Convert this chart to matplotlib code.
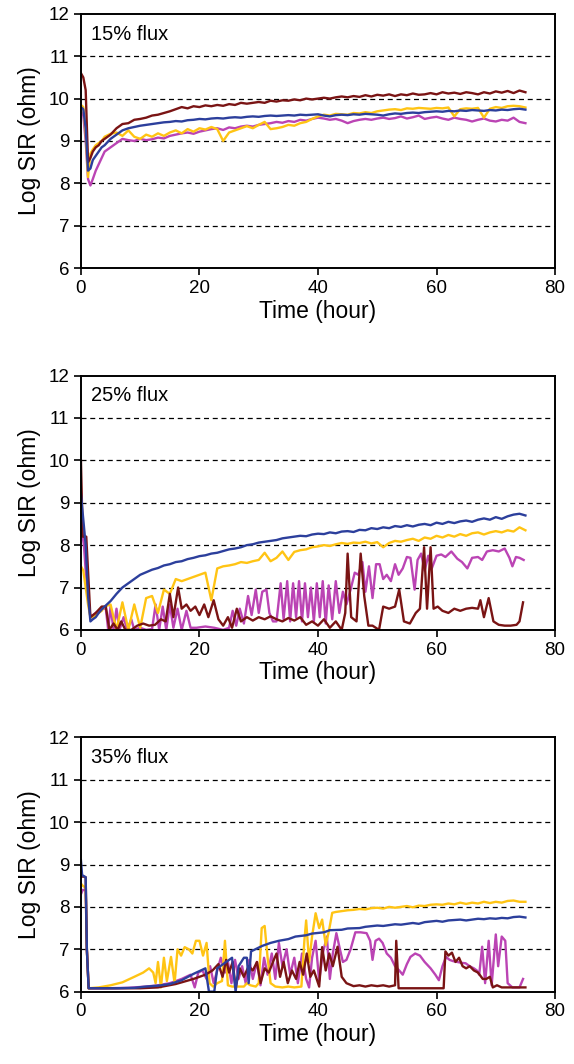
import matplotlib
matplotlib.use("Agg")
import matplotlib.pyplot as plt

# SIR vs time for three flux levels, four samples each

plt.rcParams['font.family'] = ['Liberation Sans', 'DejaVu Sans']

MAROON = '#7a1414'
YELLOW = '#ffc414'
BLUE = '#2c3f9c'
MAGENTA = '#bb44b4'

# ---- 15% flux: shared time grid ----
t15 = [0, 0.4, 0.8, 1.2, 1.6, 2, 2.5, 3, 3.5] + list(range(4, 76))

maroon15 = [10.6, 10.5, 10.2, 8.5, 8.6, 8.75, 8.85, 8.9, 9.0,
            9.05, 9.15, 9.3, 9.4, 9.42, 9.5, 9.52, 9.55, 9.6, 9.62,
            9.66, 9.7, 9.75, 9.8, 9.77, 9.82, 9.8, 9.84, 9.82, 9.85,
            9.83, 9.87, 9.85, 9.9, 9.88, 9.9, 9.92, 9.9, 9.95, 9.93,
            9.96, 9.95, 9.98, 9.96, 10.0, 9.98, 10.0, 10.02, 10.0, 10.03,
            10.05, 10.03, 10.06, 10.04, 10.08, 10.05, 10.09, 10.07, 10.1, 10.06,
            10.1, 10.08, 10.12, 10.09, 10.1, 10.13, 10.1, 10.15, 10.12, 10.14,
            10.11, 10.15, 10.13, 10.1, 10.15, 10.12, 10.17, 10.14, 10.18, 10.13,
            10.19, 10.15]
blue15 = [9.8, 9.75, 9.3, 8.3, 8.35, 8.55, 8.65, 8.75, 8.85,
          8.9, 9.05, 9.15, 9.25, 9.3, 9.33, 9.36, 9.38, 9.4, 9.42,
          9.44, 9.45, 9.47, 9.46, 9.49, 9.5, 9.52, 9.51, 9.53, 9.54,
          9.53, 9.55, 9.56, 9.55, 9.57, 9.58, 9.57, 9.59, 9.6, 9.59,
          9.6, 9.61, 9.6, 9.62, 9.61, 9.62, 9.63, 9.6, 9.58, 9.61,
          9.62, 9.61, 9.63, 9.62, 9.64, 9.63, 9.62, 9.6, 9.63, 9.65,
          9.64, 9.66, 9.67, 9.66, 9.68, 9.69, 9.7, 9.69, 9.71, 9.7,
          9.72, 9.71, 9.73, 9.72, 9.71, 9.73, 9.72, 9.74, 9.73, 9.75,
          9.76, 9.74]
yellow15 = [9.85, 9.8, 9.2, 8.15, 8.7, 8.8, 8.9, 8.95, 9.0,
            9.1, 9.17, 9.2, 9.12, 9.25, 9.1, 9.05, 9.15, 9.1, 9.18,
            9.12, 9.2, 9.25, 9.18, 9.28, 9.22, 9.3, 9.27, 9.33, 9.28,
            9.0, 9.2, 9.25, 9.3, 9.35, 9.3, 9.38, 9.45, 9.28, 9.3,
            9.33, 9.38, 9.36, 9.42, 9.45, 9.52, 9.58, 9.62, 9.6, 9.64,
            9.63, 9.62, 9.66, 9.65, 9.68, 9.66, 9.7, 9.72, 9.74, 9.75,
            9.73, 9.77, 9.76, 9.78, 9.77, 9.76, 9.78, 9.77, 9.79, 9.58,
            9.75, 9.77, 9.76, 9.78, 9.55, 9.76, 9.8, 9.78, 9.82, 9.83,
            9.82, 9.79]
magenta15 = [9.7, 9.6, 9.0, 8.1, 7.95, 8.1, 8.3, 8.45, 8.6,
             8.75, 8.85, 8.95, 9.05, 9.02, 9.0, 9.05, 9.02, 9.04, 9.08,
             9.06, 9.12, 9.15, 9.18, 9.2, 9.17, 9.22, 9.25, 9.28, 9.3,
             9.26, 9.32, 9.3, 9.34, 9.36, 9.34, 9.38, 9.4, 9.42, 9.45,
             9.43, 9.47, 9.45, 9.5, 9.48, 9.52, 9.55, 9.53, 9.5, 9.52,
             9.48, 9.42, 9.47, 9.5, 9.52, 9.5, 9.53, 9.55, 9.52, 9.54,
             9.58, 9.53, 9.56, 9.6, 9.52, 9.55, 9.57, 9.53, 9.5, 9.55,
             9.52, 9.5, 9.46, 9.5, 9.53, 9.48, 9.46, 9.5, 9.48, 9.55,
             9.45, 9.42]

# ---- 25% flux ----
t25 = t15
blue25 = [9.2, 8.6, 8.0, 6.8, 6.2, 6.25, 6.3, 6.4, 6.48,
          6.55, 6.68, 6.85, 7.0, 7.1, 7.2, 7.3, 7.36, 7.42, 7.46,
          7.52, 7.55, 7.6, 7.62, 7.67, 7.7, 7.74, 7.76, 7.8, 7.82,
          7.86, 7.9, 7.92, 7.95, 8.0, 8.02, 8.06, 8.08, 8.1, 8.12,
          8.16, 8.18, 8.2, 8.22, 8.21, 8.25, 8.27, 8.26, 8.3, 8.28,
          8.32, 8.33, 8.31, 8.36, 8.35, 8.4, 8.38, 8.42, 8.4, 8.45,
          8.43, 8.47, 8.44, 8.48, 8.5, 8.47, 8.53, 8.5, 8.55, 8.52,
          8.56, 8.58, 8.55, 8.6, 8.63, 8.6, 8.66, 8.62, 8.68, 8.72,
          8.74, 8.7]
yellow25 = [7.5, 7.4, 7.0, 6.6, 6.3, 6.3, 6.35, 6.4, 6.45,
            6.55, 6.6, 6.0, 6.65, 6.0, 6.6, 6.05, 6.75, 6.8, 6.4,
            6.95, 6.85, 7.2, 7.15, 7.2, 7.25, 7.3, 7.35, 6.7, 7.45,
            7.5, 7.52, 7.55, 7.6, 7.58, 7.62, 7.65, 7.82, 7.62, 7.7,
            7.85, 7.65, 7.84, 7.88, 7.9, 7.95, 7.97, 8.0, 7.98, 8.02,
            8.05, 8.03, 8.06, 8.05, 8.08, 8.04, 8.07, 7.95, 8.05, 8.1,
            8.08, 8.12, 8.15, 8.1, 8.18, 8.15, 8.22, 8.18, 8.24, 8.2,
            8.26, 8.22, 8.28, 8.3, 8.25, 8.3, 8.33, 8.3, 8.35, 8.32,
            8.42, 8.35]

t_maroon25 = [0, 0.3, 0.9, 1.6, 2.5, 3.5, 4.2, 4.8, 5.5, 6.2,
              6.8, 7.5, 8.5, 9.5, 10.5, 11.5, 12.5, 13.5, 14.3, 15.0,
              15.6, 16.4, 17.0, 17.8, 18.5, 19.3, 20.0, 20.8, 21.5, 22.4,
              23.2, 24.0, 24.8, 25.5, 26.3, 27.0, 28.0, 29.0, 30.0, 31.0,
              32.0, 33.0, 34.0, 35.0, 36.0, 37.0, 38.0, 39.0, 40.0, 41.0,
              42.0, 43.0, 44.0, 44.6, 45.0, 45.6, 46.5, 47.2, 47.8, 48.5,
              49.2, 50.3, 51.0, 52.0, 53.0, 53.7, 54.5, 55.5, 56.5, 57.2,
              57.9, 58.4, 59.0, 59.5, 60.2, 61.0, 62.0, 63.0, 64.0, 65.0,
              66.0, 67.0, 67.4, 68.0, 68.8, 69.6, 70.5, 71.5, 72.5, 73.5,
              74.0, 74.6]
maroon25 = [10.0, 8.2, 8.2, 6.3, 6.4, 6.55, 6.55, 6.0, 6.15, 6.0,
            6.2, 6.0, 6.0, 6.1, 6.15, 6.1, 6.12, 6.25, 6.2, 6.85,
            6.3, 7.0, 6.5, 6.6, 6.45, 6.55, 6.35, 6.6, 6.3, 6.7,
            6.25, 6.1, 6.3, 6.05, 6.5, 6.2, 6.3, 6.22, 6.3, 6.25,
            6.32, 6.25, 6.2, 6.28, 6.22, 6.3, 6.12, 6.2, 6.1, 6.25,
            6.05, 6.2, 6.0, 6.4, 7.8, 6.3, 6.2, 7.8, 6.8, 6.1,
            6.1, 6.0, 6.55, 6.5, 6.55, 6.95, 6.2, 6.15, 6.4, 6.5,
            7.95, 6.5, 7.95, 6.5, 6.55, 6.45, 6.4, 6.5, 6.45, 6.5,
            6.52, 6.5, 6.7, 6.3, 6.75, 6.2, 6.12, 6.1, 6.1, 6.12,
            6.2, 6.65]

t_magenta25 = [0, 0.5, 1.0, 1.6, 2.5, 3.5, 4.2, 4.6, 5.0, 5.5,
               6.0, 6.5, 7.2, 7.8, 8.5, 9.0, 10.0, 11.0, 12.0, 12.6,
               13.2, 13.8, 14.4, 15.0, 15.6, 16.3, 17.0, 17.8, 18.5, 19.5,
               21.0, 22.5, 24.0, 25.0, 25.6, 26.2, 26.8, 27.5, 28.2, 28.8,
               29.5, 30.0, 30.6, 31.3, 31.8, 32.4, 33.0, 33.7, 34.2, 34.8,
               35.3, 35.8, 36.3, 36.8, 37.3, 37.8, 38.3, 38.8, 39.3, 39.8,
               40.3, 40.8, 41.3, 41.8, 42.4, 43.0, 43.6, 44.2, 44.8, 45.5,
               46.2, 46.8, 47.5, 48.0, 48.6, 49.2, 49.8, 50.4, 51.0, 51.6,
               52.3, 53.0, 53.6, 54.3, 55.0, 55.6, 56.3, 56.8, 57.4, 58.0,
               58.6, 59.2, 60.0, 60.8, 61.5, 62.5, 63.5, 64.3, 65.2, 66.0,
               67.0, 67.7, 68.5, 69.5, 70.5, 71.5, 72.3, 72.8, 73.4, 74.0,
               74.7]
magenta25 = [8.5, 8.0, 7.0, 6.3, 6.4, 6.5, 6.5, 6.0, 6.55, 6.0,
             6.5, 6.0, 6.3, 6.0, 6.25, 6.0, 6.05, 6.0, 6.02, 6.6,
             6.0, 6.55, 6.0, 6.6, 6.05, 6.5, 6.0, 6.45, 6.05, 6.05,
             6.08, 6.05, 6.0, 6.05, 6.45, 6.1, 6.5, 6.15, 6.8, 6.35,
             6.95, 6.4, 6.9, 6.95, 6.4, 6.2, 6.2, 7.1, 6.25, 7.15,
             6.2, 7.1, 6.3, 7.15, 6.2, 7.1, 6.3, 7.0, 6.2, 7.1,
             6.3, 7.15, 6.15, 7.05, 6.25, 7.15, 6.4, 6.9, 6.6, 6.95,
             7.35, 7.3, 7.6, 6.9, 7.5, 6.75, 7.55, 7.55, 7.2, 7.3,
             7.15, 7.55, 7.3, 7.45, 7.72, 7.7, 6.95, 7.65, 7.8, 7.4,
             7.75, 7.45, 7.75, 7.78, 7.72, 7.85, 7.68, 7.6, 7.45, 7.7,
             7.72, 7.65, 7.85, 7.88, 7.85, 7.92, 7.7, 7.5, 7.72, 7.7,
             7.65]

# ---- 35% flux ----
t_blue35 = [0, 0.2, 0.8, 1.0, 1.3, 3, 6, 9, 11, 13,
            15, 17, 19, 21, 21.6, 22.5, 23.0, 24, 25.5, 26.1,
            26.6, 27.5, 28.0, 28.3, 28.7, 30.6, 32, 33.4, 35, 36.2,
            38, 39, 41, 42, 44, 45, 47, 48, 50, 51,
            53, 54, 56, 57, 58, 60, 61, 62, 64, 65,
            67, 68, 69, 70, 71, 72, 73, 74, 75]
blue35 = [9.1, 8.75, 8.7, 7.0, 6.08, 6.08, 6.08, 6.09, 6.12, 6.14,
          6.18, 6.27, 6.42, 6.55, 6.0, 6.0, 6.55, 6.65, 6.8, 6.0,
          6.6, 6.8, 6.8, 6.2, 6.95, 7.08, 7.15, 7.2, 7.24, 7.3,
          7.33, 7.37, 7.4, 7.45, 7.46, 7.49, 7.5, 7.53, 7.56, 7.55,
          7.59, 7.58, 7.62, 7.6, 7.64, 7.67, 7.65, 7.68, 7.7, 7.68,
          7.72, 7.71, 7.73, 7.72, 7.74, 7.73, 7.76, 7.77, 7.75]

t_yellow35 = [0, 0.3, 0.8, 1.0, 1.3, 3, 5, 7, 9, 10.5,
              11.5, 12.2, 12.6, 13.0, 13.5, 14.0, 14.5, 15.2, 15.8, 16.3,
              16.9, 17.5, 18.2, 18.8, 19.4, 20.0, 20.6, 21.2, 21.7, 22.3,
              23.0, 23.8, 24.3, 24.8, 25.5, 26.5, 27.5, 28.0, 28.6, 29.5,
              30.0, 30.5, 31.0, 31.5, 32.0, 32.8, 34, 35, 36, 37.2,
              37.7, 38.0, 38.5, 39.0, 39.6, 40.2, 40.7, 41.3, 41.8, 42.4,
              43, 44, 45, 46, 47, 48, 49, 50, 51, 52,
              53, 54, 55, 56, 57, 58, 59, 60, 61, 62,
              63, 64, 65, 66, 67, 68, 69, 70, 71, 72,
              73, 74, 75]
yellow35 = [8.55, 8.5, 8.45, 7.0, 6.08, 6.1, 6.15, 6.22, 6.35, 6.45,
            6.55, 6.45, 6.2, 6.7, 6.1, 6.8, 6.25, 6.82, 6.2, 7.0,
            6.85, 7.05, 7.0, 6.9, 7.2, 7.2, 6.85, 7.15, 6.2, 6.12,
            6.2, 6.25, 7.2, 6.15, 6.12, 6.12, 6.12, 6.2, 6.15, 6.12,
            6.2, 7.5, 7.55, 6.8, 6.2, 6.12, 6.1, 6.12, 6.1, 6.12,
            7.2, 7.68, 6.7, 7.3, 7.85, 7.5, 7.7, 7.1, 7.4, 7.86,
            7.88, 7.9, 7.92, 7.93, 7.95, 7.94, 7.97, 7.98, 7.96, 8.0,
            7.98, 8.0, 8.02, 7.99, 8.03, 8.02, 8.05, 8.06, 8.05, 8.08,
            8.06, 8.1, 8.07, 8.1, 8.08, 8.12, 8.09, 8.12, 8.1, 8.14,
            8.15, 8.12, 8.12]

t_magenta35 = [0, 0.3, 0.8, 1.0, 1.3, 4, 8, 11, 13, 15,
               17, 18.5, 19.2, 19.8, 20.5, 21.2, 21.8, 22.4, 23, 23.6,
               24.3, 24.8, 25.4, 26, 26.6, 27.2, 27.8, 28.4, 29.0, 29.7,
               30.3, 30.9, 31.5, 32.2, 32.8, 33.4, 34.0, 34.7, 35.3, 36.0,
               36.6, 37.3, 38.0, 38.5, 39.0, 39.6, 40.2, 40.8, 41.5, 42.0,
               42.5, 43.1, 43.7, 44.2, 44.8, 45.5, 46.3, 47.2, 48.2, 48.8,
               49.2, 49.7, 50.3, 50.9, 51.6, 52.3, 53.0, 53.7, 54.3, 55.0,
               55.6, 56.4, 57.2, 58.0, 59.0, 59.8, 60.4, 61.0, 61.6, 62.2,
               62.8, 63.5, 64.2, 64.9, 65.6, 66.3, 66.8, 67.2, 67.7, 68.2,
               68.8, 69.3, 70.0, 70.4, 71.0, 71.6, 72.0, 72.8, 74.0, 74.6]
magenta35 = [8.3, 8.4, 8.4, 7.0, 6.08, 6.08, 6.09, 6.12, 6.15, 6.2,
             6.3, 6.4, 6.1, 6.45, 6.5, 6.3, 6.6, 6.2, 6.5, 6.8,
             6.45, 6.7, 6.2, 6.75, 6.3, 6.6, 6.2, 6.75, 6.3, 6.7,
             6.15, 6.8, 6.4, 6.9, 6.3, 7.15, 6.6, 7.0, 6.4, 6.8,
             6.2, 6.9, 6.3, 6.1, 6.8, 7.2, 6.25, 6.9, 7.3, 6.3,
             6.9, 7.38, 7.0, 6.7, 6.75, 7.0, 7.4, 7.4, 7.38, 7.2,
             6.75, 7.2, 7.25, 7.15, 6.9, 6.8, 6.6, 6.5, 6.4, 6.65,
             6.82, 6.9, 6.85, 6.7, 6.55, 6.4, 6.27, 6.6, 6.82, 6.75,
             6.72, 6.7, 6.68, 6.67, 6.6, 6.55, 6.5, 6.4, 7.06, 6.2,
             7.2, 6.15, 7.35, 6.6, 7.3, 7.2, 6.2, 6.1, 6.1, 6.3]

t_maroon35 = [0, 0.3, 0.8, 1.0, 1.3, 5, 10, 13, 16, 19,
              21, 22.2, 23.2, 23.9, 24.5, 25.0, 25.6, 26.1, 26.8, 27.5,
              28.3, 29.0, 29.7, 30.3, 31.0, 31.7, 32.4, 33.0, 33.6, 34.2,
              34.9, 35.6, 36.3, 36.9, 37.5, 38.1, 38.7, 39.3, 40.2, 40.7,
              41.3, 41.9, 42.5, 43.3, 44.0, 44.8, 46.0, 47, 48, 49,
              50, 51, 52, 53.0, 53.2, 53.6, 56, 59, 61.2, 61.5,
              62, 62.6, 63.2, 63.8, 64.4, 65, 65.6, 66.3, 67, 67.8,
              68.4, 69.0, 69.5, 70.2, 71, 73, 75]
maroon35 = [8.7, 8.72, 8.7, 7.0, 6.08, 6.08, 6.08, 6.1, 6.18, 6.3,
            6.4, 6.5, 6.65, 6.35, 6.75, 6.45, 6.7, 6.1, 6.55, 6.35,
            6.6, 6.5, 6.7, 6.2, 6.55, 6.45, 6.7, 6.9, 6.35, 6.7,
            6.2, 6.5, 6.3, 6.7, 6.4, 6.9, 6.35, 6.5, 6.12, 7.05,
            6.5, 6.9, 6.6, 7.06, 6.35, 6.2, 6.13, 6.15, 6.12, 6.15,
            6.13, 6.15, 6.12, 6.15, 7.2, 6.08, 6.08, 6.08, 6.08, 6.95,
            6.85, 6.92, 6.7, 6.8, 6.6, 6.55, 6.6, 6.5, 6.45, 6.3,
            6.3, 6.35, 6.1, 6.15, 6.1, 6.1, 6.1]

panels = [
    ('15% flux', [(t15, magenta15, MAGENTA), (t15, yellow15, YELLOW),
                  (t15, maroon15, MAROON), (t15, blue15, BLUE)]),
    ('25% flux', [(t_magenta25, magenta25, MAGENTA), (t25, yellow25, YELLOW),
                  (t_maroon25, maroon25, MAROON), (t25, blue25, BLUE)]),
    ('35% flux', [(t_magenta35, magenta35, MAGENTA), (t_yellow35, yellow35, YELLOW),
                  (t_maroon35, maroon35, MAROON), (t_blue35, blue35, BLUE)]),
]

fig = plt.figure(figsize=(5.74, 10.64), dpi=100)
bottoms = [0.748, 0.408, 0.068]
for (label, series), b in zip(panels, bottoms):
    ax = fig.add_axes([0.141, b, 0.826, 0.239])
    for tt, yy, c in series:
        ax.plot(tt, yy, color=c, lw=1.7)
    ax.set_xlim(0, 80)
    ax.set_ylim(6, 12)
    ax.set_xticks([0, 20, 40, 60, 80])
    ax.set_yticks(range(6, 13))
    for v in range(7, 12):
        ax.axhline(v, color='black', lw=0.9, ls=(0, (4, 3)), zorder=0)
    ax.tick_params(direction='out', length=5, width=1.2, labelsize=13.5,
                   top=False, right=False)
    for s in ax.spines.values():
        s.set_linewidth(1.4)
    ax.set_xlabel('Time (hour)', fontsize=16.5, labelpad=2)
    ax.set_ylabel('Log SIR (ohm)', fontsize=16.5, labelpad=5)
    ax.text(0.022, 0.92, label, transform=ax.transAxes, fontsize=14.5,
            va='center', ha='left')

fig.savefig('out.png', dpi=100)
